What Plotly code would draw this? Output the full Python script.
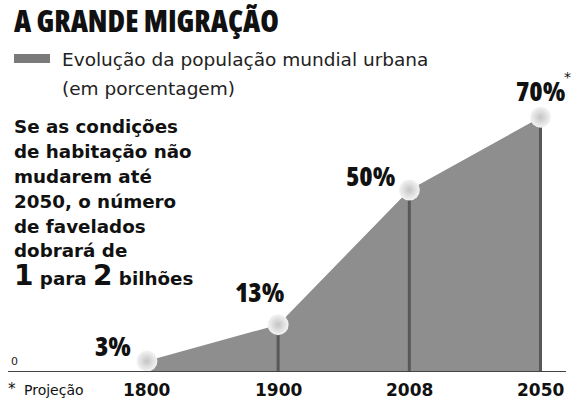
import plotly.graph_objects as go

years = ["1800", "1900", "2008", "2050"]
urban_pct = [3, 13, 50, 70]
value_labels = ["3%", "13%", "50%", "70%"]
title_text = "A GRANDE MIGRAÇÃO"
legend_lines = ["Evolução da população mundial urbana", "(em porcentagem)"]
note_lines = ["Se as condições", "de habitação não", "mudarem até", "2050, o número",
              "de favelados", "dobrará de"]
footnote = "Projeção"

xi = list(range(len(years)))
cond = "Open Sans"
sans = "DejaVu Sans"
W, H = 572, 404
PLOT_H = 372


def px(x):
    return x / W


def py(y):
    return 1 - y / PLOT_H


def condensed(t):
    return f"<span style='font-stretch:75%'>{t}</span>"


fig = go.Figure()
fig.add_trace(go.Scatter(x=xi, y=urban_pct, mode="lines", fill="tozeroy",
                         fillcolor="#8e8e8e", line=dict(color="#8e8e8e", width=0),
                         hoverinfo="skip"))
vx, vy = [], []
for i in xi[1:]:
    vx += [i, i, None]
    vy += [urban_pct[i], 0, None]
fig.add_trace(go.Scatter(x=vx, y=vy, mode="lines", line=dict(color="#585858", width=3),
                         hoverinfo="skip"))
fig.add_trace(go.Scatter(x=xi, y=urban_pct, mode="markers",
                         marker=dict(size=21, color="#f4f4f4",
                                     gradient=dict(type="radial", color="#c4c4c4"),
                                     line=dict(width=0)),
                         hoverinfo="skip"))

offsets = [(-34, 16), (-19, 33), (-39, 15), (0, 27)]
for i, (lab, (dx, dy)) in enumerate(zip(value_labels, offsets)):
    fig.add_annotation(x=xi[i], y=urban_pct[i], text=condensed(lab), showarrow=False,
                       xshift=dx, yshift=dy,
                       font=dict(family=cond, size=27, color="#111", weight=800))
fig.add_annotation(x=xi[3], y=urban_pct[3], text="*", showarrow=False, xshift=27, yshift=40,
                   font=dict(family=sans, size=14, color="#111"))

for i, y in enumerate(years):
    fig.add_annotation(x=xi[i], y=0, text=f"<b>{y}</b>", showarrow=False, yanchor="top",
                       yshift=-6, font=dict(family=sans, size=17, color="#111"))

fig.add_annotation(xref="paper", x=px(9), y=0, yanchor="bottom", xanchor="left",
                   text="0", showarrow=False, yshift=2, font=dict(family=sans, size=11, color="#222"))
fig.add_annotation(xref="paper", x=px(6), y=0, yanchor="top", xanchor="left",
                   text="*", showarrow=False, yshift=-6, font=dict(family=sans, size=15, color="#111"))
fig.add_annotation(xref="paper", x=px(22), y=0, yanchor="top", xanchor="left",
                   text=footnote, showarrow=False, yshift=-8, font=dict(family=sans, size=14, color="#111"))

fig.add_shape(type="line", xref="paper", x0=px(8), x1=px(566), y0=0, y1=0,
              line=dict(color="#444", width=2))

fig.add_annotation(xref="paper", yref="paper", x=px(12), y=py(21), xanchor="left", yanchor="middle",
                   text=condensed(title_text), showarrow=False,
                   font=dict(family=cond, size=30, color="#111", weight=800))
fig.add_shape(type="rect", xref="paper", yref="paper", x0=px(14), x1=px(50),
              y0=py(63), y1=py(54), fillcolor="#7a7a7a", line=dict(width=0))
for k, line in enumerate(legend_lines):
    fig.add_annotation(xref="paper", yref="paper", x=px(60), y=py(60 + 28 * k), xanchor="left",
                       yanchor="middle", text=line, showarrow=False,
                       font=dict(family=sans, size=18.5, color="#222"))

for k, line in enumerate(note_lines):
    fig.add_annotation(xref="paper", yref="paper", x=px(12), y=py(127 + 24.8 * k), xanchor="left",
                       yanchor="middle", text=f"<b>{line}</b>", showarrow=False,
                       font=dict(family=sans, size=18.3, color="#111"))
fig.add_annotation(xref="paper", yref="paper", x=px(12), y=py(275), xanchor="left", yanchor="middle",
                   text="<b><span style='font-size:28px'>1</span> para <span style='font-size:28px'>2</span> bilhões</b>",
                   showarrow=False, font=dict(family=sans, size=18.3, color="#111"))

fig.update_layout(
    width=W, height=H, margin=dict(l=0, r=0, t=0, b=H - PLOT_H),
    paper_bgcolor="white", plot_bgcolor="white", showlegend=False,
    xaxis=dict(range=[-1.12, 3.24], visible=False),
    yaxis=dict(range=[0, PLOT_H / 3.64], visible=False),
)
fig.write_html("out.html", config={"displayModeBar": False},
               post_script="document.body.style.margin='0';")
